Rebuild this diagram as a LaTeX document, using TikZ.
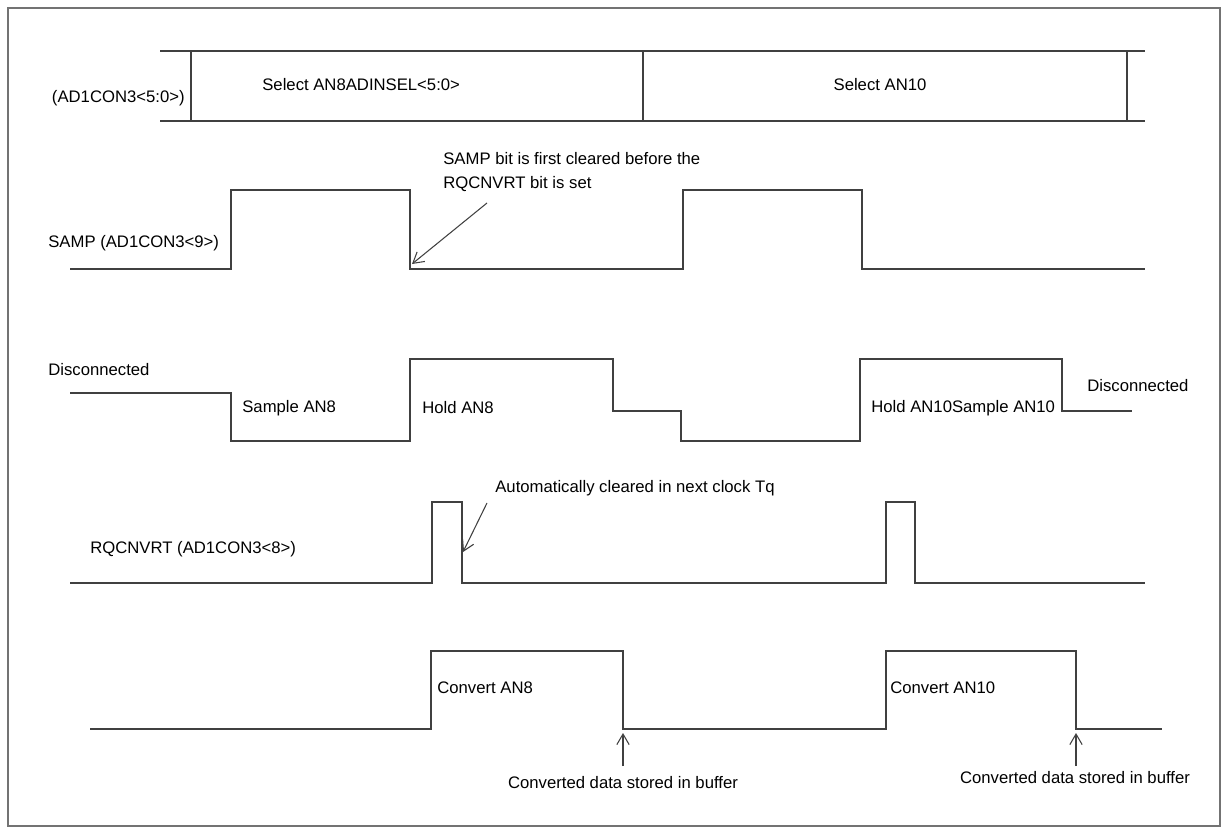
\documentclass[tikz,border=0pt]{standalone}
\usepackage{fontspec}
\setmainfont{Liberation Sans}
\usetikzlibrary{calc,arrows.meta}

\begin{document}
\begin{tikzpicture}[x=0.02cm,y=-0.02cm,
    lbl/.style={inner sep=0pt,font=\fontsize{9.5}{11}\selectfont},
    sig/.style={draw=black!75,line width=0.6pt},
    note/.style={-{Straight Barb[length=6pt,width=7pt]},draw=black!75,line width=0.6pt}]
  \useasboundingbox (0,0) rectangle (1228,834);
  \draw[black!55,line width=0.8pt] (8,8) rectangle (1220,826);

  %% Bus: ADC channel select
  \draw[sig] (160,51) -- (1145,51) (160,121) -- (1145,121);
  \foreach \x in {191,643,1127}
    \draw[sig] (\x,51) -- (\x,121);
  \node[lbl,anchor=east] (selreg) at (185,98) {(AD1CON3<5:0>)};
  \node[lbl,anchor=west] (selAN8) at (262,85) {Select AN8ADINSEL<5:0>};
  \node[lbl] (selAN10) at (880,85) {Select AN10};

  %% SAMP
  \node[lbl,anchor=west] (samp) at (48,243) {SAMP (AD1CON3<9>)};
  \draw[sig] (70,269) -| (231,190) -| (410,269) -| (683,190) -| (862,269) -- (1145,269);
  \node[lbl,anchor=west,align=left] (sampnote) at (443,172) {SAMP bit is first cleared before the\\[3pt]RQCNVRT bit is set};
  \coordinate (sampfall) at (412,264);
  \coordinate (sampnotetail) at (487,203);
  \draw[note] (sampnotetail) -- (sampfall);

  %% Sample / hold
  \draw[sig] (70,393) -| (231,441) -| (410,359) -| (613,411) -| (681,441) -| (860,359) -| (1062,411) -- (1132,411);
  \node[lbl,anchor=west] (disc1) at (48,370) {Disconnected};
  \node[lbl,anchor=west] (smpAN8) at (242,408) {Sample AN8};
  \node[lbl,anchor=west] (hldAN8) at (422,408) {Hold AN8};
  \node[lbl,anchor=west] (hldAN10) at (871,408) {Hold AN10Sample AN10};
  \node[lbl,anchor=west] (disc2) at (1087,386) {Disconnected};

  %% RQCNVRT
  \node[lbl,anchor=west] (rqc) at (90,549) {RQCNVRT (AD1CON3<8>)};
  \draw[sig] (70,583) -| (432,502) -| (462,583) -| (886,502) -| (915,583) -- (1145,583);
  \node[lbl,anchor=west] (rqcnote) at (495,488) {Automatically cleared in next clock T\textsc{q}};
  \coordinate (rqcfall) at (463,552);
  \coordinate (rqcnotetail) at (487,503);
  \draw[note] (rqcnotetail) -- (rqcfall);

  %% Conversion
  \draw[sig] (90,729) -| (431,651) -| (623,729) -| (886,651) -| (1076,729) -- (1162,729);
  \node[lbl,anchor=west] (cnvAN8) at (437,688) {Convert AN8};
  \node[lbl,anchor=west] (cnvAN10) at (890,688) {Convert AN10};
  \node[lbl,anchor=north] (buf1) at (623,776) {Converted data stored in buffer};
  \node[lbl,anchor=north] (buf2) at (1075,771) {Converted data stored in buffer};
  \coordinate (end1) at (623,733);
  \coordinate (end2) at (1076,733);
  \draw[note] (buf1.north-|end1) ++(0,-10) -- (end1);
  \draw[note] (buf2.north-|end2) ++(0,-5) -- (end2);
\end{tikzpicture}
\end{document}
